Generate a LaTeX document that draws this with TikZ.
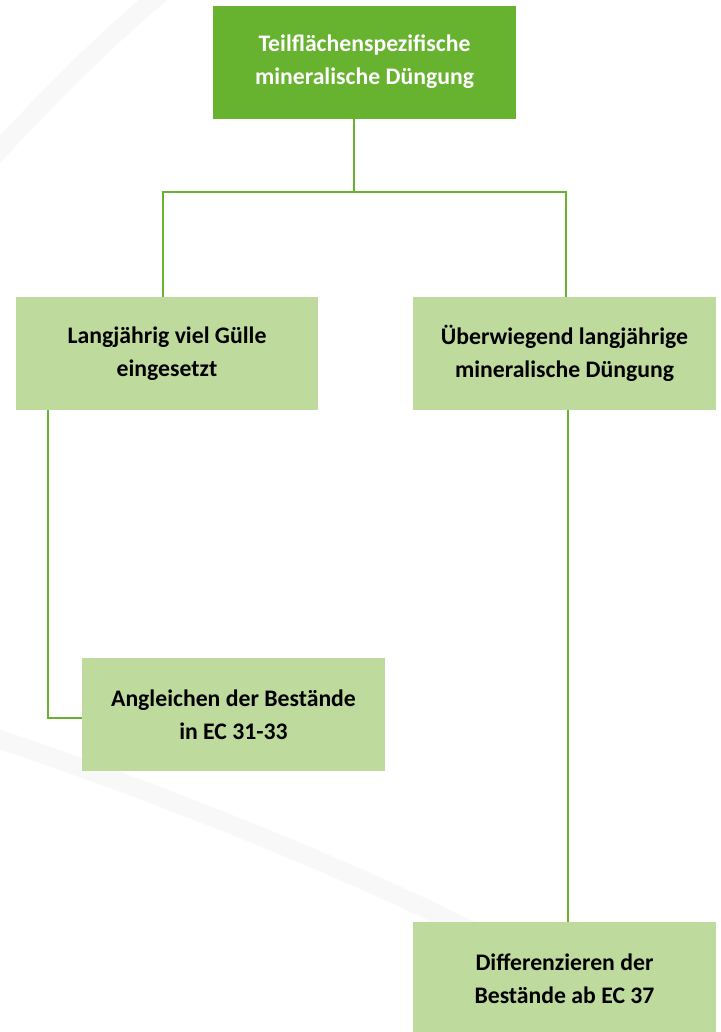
\documentclass[tikz,border=0pt]{standalone}
\usepackage{fontspec}
\setmainfont{Carlito}
\definecolor{dkgreen}{HTML}{67B22F}
\definecolor{ltgreen}{HTML}{BFDA9D}
\definecolor{band}{HTML}{F8F8F8}
\tikzset{
  box/.style={rectangle, inner sep=0pt, minimum width=227pt, minimum height=84.75pt,
    align=center, font=\fontsize{17.8pt}{24.75pt}\selectfont\bfseries},
  topbox/.style={box, fill=dkgreen, text=white},
  subbox/.style={box, fill=ltgreen, text=black},
  link/.style={draw=dkgreen, line width=1.9pt},
  bandline/.style={draw=band, line width=14pt}
}
\begin{document}
\begin{tikzpicture}[x=0.75pt,y=-0.75pt]
\clip (0,0) rectangle (721,1032);
\fill[white] (0,0) rectangle (721,1032);
% faint background bands
\draw[bandline] (-10,160) .. controls (50,95) and (110,35) .. (165,-10);
\draw[bandline] (-10,736) .. controls (150,790) and (330,860) .. (480,935);
% nodes
\node[topbox] (top) at (364.5,62) {Teilflächenspezifische\\mineralische Düngung};
\node[subbox] (L) at (167,353.5) {Langjährig viel Gülle\\eingesetzt};
\node[subbox] (R) at (564.5,353.5) {Überwiegend langjährige\\mineralische Düngung};
\node[subbox] (A) at (233.5,714.5) {Angleichen der Bestände\\in EC 31-33};
\node[subbox] (D) at (564.5,978.5) {Differenzieren der\\Bestände ab EC 37};
% connectors
\coordinate (jm) at (354,192);
\coordinate (jl) at (163,192);
\coordinate (jr) at (566,192);
\coordinate (lc) at (48,718);
\coordinate (rc) at (568,0);
\draw[link] (top.south -| jm) -- (jm);
\draw[link] (L.north -| jl) -- (jl) -- (jr) -- (R.north -| jr);
\draw[link] (L.south -| lc) -- (lc) -- (lc -| A.west);
\draw[link] (R.south -| rc) -- (D.north -| rc);
\end{tikzpicture}
\end{document}
